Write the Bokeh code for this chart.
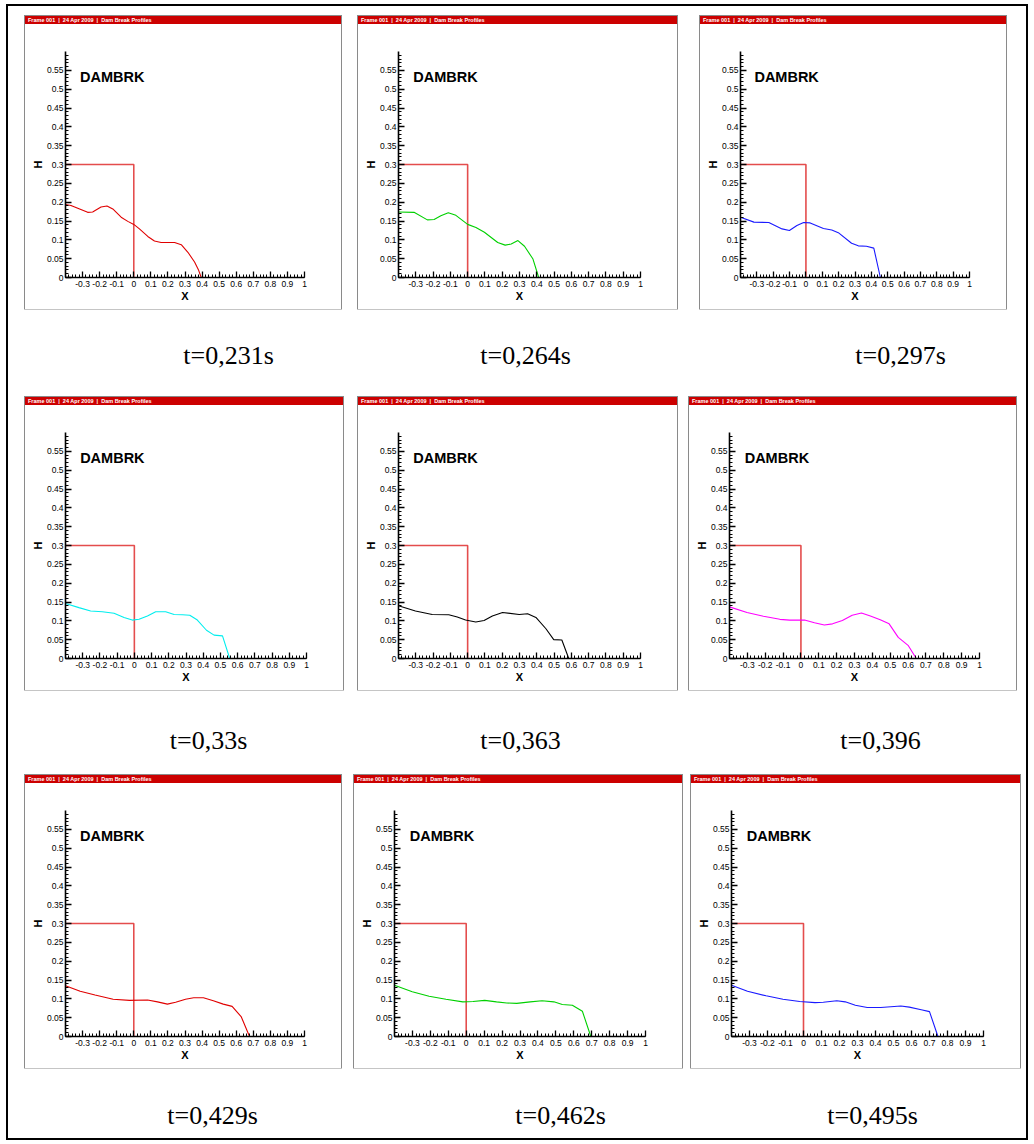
import numpy as np
from bokeh.plotting import figure
from bokeh.models import Range1d, FixedTicker, Label, Div
from bokeh.layouts import column, row
from bokeh.embed import file_html
from bokeh.resources import INLINE

# ---------------- data ----------------
header_text = "Frame 001&nbsp;&nbsp;|&nbsp;&nbsp;24 Apr 2009&nbsp;&nbsp;|&nbsp;&nbsp;Dam Break Profiles"
plot_label = "DAMBRK"
x_title = "X"
y_title = "H"

captions = ["t=0,231s", "t=0,264s", "t=0,297s",
            "t=0,33s", "t=0,363", "t=0,396",
            "t=0,429s", "t=0,462s", "t=0,495s"]
line_colors = ["#e00000", "#00d000", "#1a1aff",
               "#00eeee", "#000000", "#ff00ff",
               "#e00000", "#00d000", "#1a1aff"]

dam_x = [-0.4, 0.0, 0.0]
dam_h = [0.3, 0.3, 0.0]

x_t231 = [-0.4, -0.368, -0.27, -0.241, -0.192, -0.157, -0.123, -0.074, -0.035, 0.0, 0.033, 0.082, 0.121, 0.160, 0.239, 0.278, 0.317, 0.356, 0.380, 0.395]
h_t231 = [0.194, 0.191, 0.173, 0.174, 0.187, 0.190, 0.182, 0.160, 0.149, 0.141, 0.129, 0.109, 0.097, 0.093, 0.093, 0.087, 0.067, 0.041, 0.019, 0.0]

x_t264 = [-0.4, -0.31, -0.233, -0.194, -0.155, -0.112, -0.068, 0.0, 0.048, 0.097, 0.174, 0.217, 0.252, 0.291, 0.329, 0.378, 0.411]
h_t264 = [0.174, 0.173, 0.153, 0.154, 0.164, 0.172, 0.165, 0.141, 0.133, 0.120, 0.093, 0.086, 0.089, 0.098, 0.083, 0.049, 0.0]

x_t297 = [-0.4, -0.318, -0.227, -0.146, -0.101, -0.055, -0.014, 0.026, 0.107, 0.158, 0.198, 0.279, 0.320, 0.370, 0.415, 0.455]
h_t297 = [0.160, 0.147, 0.146, 0.129, 0.125, 0.138, 0.146, 0.145, 0.130, 0.126, 0.119, 0.091, 0.084, 0.083, 0.078, 0.0]

x_t330 = [-0.4, -0.322, -0.254, -0.186, -0.118, -0.060, -0.012, 0.027, 0.076, 0.124, 0.182, 0.231, 0.279, 0.322, 0.366, 0.419, 0.463, 0.512, 0.554]
h_t330 = [0.146, 0.135, 0.126, 0.124, 0.120, 0.109, 0.102, 0.104, 0.113, 0.124, 0.124, 0.117, 0.116, 0.115, 0.102, 0.075, 0.062, 0.060, 0.0]

x_t363 = [-0.4, -0.302, -0.205, -0.109, -0.060, -0.012, 0.047, 0.095, 0.143, 0.202, 0.298, 0.347, 0.395, 0.453, 0.498, 0.545, 0.585]
h_t363 = [0.140, 0.126, 0.117, 0.116, 0.110, 0.102, 0.097, 0.101, 0.113, 0.122, 0.117, 0.119, 0.109, 0.079, 0.050, 0.049, 0.0]

x_t396 = [-0.4, -0.302, -0.210, -0.118, -0.063, 0.020, 0.076, 0.131, 0.177, 0.232, 0.287, 0.339, 0.389, 0.444, 0.494, 0.545, 0.600, 0.646]
h_t396 = [0.137, 0.122, 0.112, 0.104, 0.102, 0.102, 0.095, 0.089, 0.092, 0.101, 0.115, 0.121, 0.113, 0.103, 0.092, 0.056, 0.035, 0.0]

x_t429 = [-0.4, -0.314, -0.227, -0.121, -0.025, 0.081, 0.139, 0.197, 0.245, 0.303, 0.351, 0.408, 0.466, 0.524, 0.576, 0.630, 0.678]
h_t429 = [0.135, 0.120, 0.110, 0.099, 0.096, 0.097, 0.092, 0.086, 0.091, 0.099, 0.103, 0.103, 0.095, 0.086, 0.080, 0.052, 0.0]

x_t462 = [-0.4, -0.301, -0.207, -0.113, -0.019, 0.038, 0.103, 0.169, 0.226, 0.282, 0.357, 0.423, 0.489, 0.536, 0.592, 0.648, 0.695]
h_t462 = [0.136, 0.119, 0.107, 0.099, 0.092, 0.093, 0.096, 0.092, 0.089, 0.088, 0.092, 0.095, 0.092, 0.085, 0.083, 0.067, 0.0]

x_t495 = [-0.4, -0.311, -0.208, -0.114, -0.021, 0.064, 0.110, 0.185, 0.232, 0.288, 0.354, 0.429, 0.485, 0.541, 0.588, 0.654, 0.700, 0.747]
h_t495 = [0.136, 0.120, 0.108, 0.099, 0.093, 0.090, 0.091, 0.095, 0.092, 0.083, 0.077, 0.077, 0.079, 0.081, 0.078, 0.071, 0.066, 0.0]

x_ticks = [-0.3, -0.2, -0.1, 0.0, 0.1, 0.2, 0.3, 0.4, 0.5, 0.6, 0.7, 0.8, 0.9, 1.0]
x_tick_labels = ["-0.3", "-0.2", "-0.1", "0", "0.1", "0.2", "0.3", "0.4", "0.5", "0.6", "0.7", "0.8", "0.9", "1"]
y_ticks = [0.0, 0.05, 0.1, 0.15, 0.2, 0.25, 0.3, 0.35, 0.4, 0.45, 0.5, 0.55]
y_tick_labels = ["0", "0.05", "0.1", "0.15", "0.2", "0.25", "0.3", "0.35", "0.4", "0.45", "0.5", "0.55"]

series_x = [x_t231, x_t264, x_t297, x_t330, x_t363, x_t396, x_t429, x_t462, x_t495]
series_h = [h_t231, h_t264, h_t297, h_t330, h_t363, h_t396, h_t429, h_t462, h_t495]

# ---------------- layout geometry (page px) ----------------
OX, OY = 8, 6            # content origin inside the outer frame
OUT_W, OUT_H = 1018, 1132
panel_lr = [[(24, 341), (357, 677), (699, 1006)],
            [(24, 343), (357, 677), (688, 1016)],
            [(24, 341), (353, 682), (690, 1020)]]
row_tops = [15, 396, 774]
PANEL_H = 295
HEADER_H = 8
PLOT_H = PANEL_H - 2 - HEADER_H
caption_cx = [[228, 525, 900], [208, 520, 880], [212, 560, 872]]
caption_cy = [355, 740, 1115]

FONT = "Liberation Sans"


def make_header(w):
    return Div(text=header_text, width=w, height=HEADER_H, margin=0,
               styles={"background-color": "#cc0000", "color": "white",
                       "font-family": "'Liberation Sans', Arial, sans-serif",
                       "font-size": "5.5px", "font-weight": "bold",
                       "line-height": "8px", "white-space": "nowrap",
                       "overflow": "hidden", "padding-left": "3px",
                       "box-sizing": "border-box"})


def make_plot(w, xs, hs, color):
    p = figure(width=w, height=PLOT_H, toolbar_location=None, output_backend="svg",
               title=None, x_range=Range1d(-0.4, 1.0), y_range=Range1d(0, 0.6),
               min_border_left=40, min_border_right=37, min_border_top=27, min_border_bottom=32,
               outline_line_color=None, background_fill_color="white", border_fill_color="white")
    p.grid.visible = False
    xa = p.xaxis[0]
    ya = p.yaxis[0]
    xa.ticker = FixedTicker(ticks=x_ticks, minor_ticks=list(np.round(np.arange(-0.4, 1.0001, 0.02), 3)))
    ya.ticker = FixedTicker(ticks=y_ticks, minor_ticks=list(np.round(np.arange(0.0, 0.5901, 0.01), 3)))
    xa.major_label_overrides = {t: s for t, s in zip(x_ticks, x_tick_labels)}
    ya.major_label_overrides = {t: s for t, s in zip(y_ticks, y_tick_labels)}
    for ax in (xa, ya):
        ax.axis_line_width = 1.6
        ax.axis_line_color = "black"
        ax.major_tick_in = 6
        ax.major_tick_out = 0
        ax.minor_tick_in = 3
        ax.minor_tick_out = 0
        ax.major_tick_line_width = 1.3
        ax.minor_tick_line_width = 1
        ax.major_label_text_font = FONT
        ax.major_label_text_font_size = "8.5px"
        ax.major_label_text_color = "black"
        ax.axis_label_text_font = FONT
        ax.axis_label_text_font_style = "bold"
        ax.axis_label_text_font_size = "11px"
        ax.axis_label_text_color = "black"
    xa.axis_label = x_title
    ya.axis_label = y_title
    xa.major_label_standoff = 3
    xa.axis_label_standoff = 0
    ya.major_label_standoff = 2
    ya.axis_label_standoff = 0
    p.line(dam_x, dam_h, line_color="#dd2020", line_alpha=0.8, line_width=1.6)
    p.line(xs, hs, line_color=color, line_width=1.1)
    p.add_layout(Label(x=-0.315, y=0.533, text=plot_label, text_font=FONT, text_font_style="bold",
                       text_font_size="14.5px", text_baseline="middle", text_color="black"))
    return p


def make_caption_strip(height, texts, centers, cy_from_top):
    c = figure(width=OUT_W, height=height, toolbar_location=None, output_backend="svg",
               title=None, x_range=Range1d(0, OUT_W), y_range=Range1d(0, height),
               x_axis_type=None, y_axis_type=None, min_border=0,
               outline_line_color=None, background_fill_color="white", border_fill_color="white")
    c.grid.visible = False
    for t, cx in zip(texts, centers):
        c.add_layout(Label(x=cx - OX, y=height - cy_from_top, text=t, text_align="center",
                           text_baseline="middle", text_font="Liberation Serif",
                           text_font_size="26px", text_color="black"))
    return c


children = []
for r in range(3):
    top = row_tops[r]
    panels = []
    prev_right = OX
    for c in range(3):
        i = r * 3 + c
        L, R = panel_lr[r][c]
        w = R - L - 1
        gap = (L + 1) - prev_right
        prev_right = R
        hdr = make_header(w)
        plt = make_plot(w, series_x[i], series_h[i], line_colors[i])
        panel = column(hdr, plt, spacing=0, margin=(0, 0, 0, gap),
                       styles={"outline": "1px solid #8a8a8a"})
        panels.append(panel)
    rtop = (top + 1) - OY if r == 0 else 0
    rw = row(*panels, spacing=0, margin=(rtop, 0, 0, 0))
    children.append(rw)
    strip_top = top + PANEL_H - 1
    strip_bottom = (row_tops[r + 1] + 1) if r < 2 else OY + OUT_H
    strip_h = strip_bottom - strip_top
    children.append(make_caption_strip(strip_h, captions[r * 3:(r + 1) * 3], caption_cx[r],
                                       caption_cy[r] - strip_top))

page = column(*children, spacing=0, width=OUT_W, height=OUT_H, margin=(OY, 0, 0, OX),
              styles={"outline": "2px solid black", "background-color": "white"})

with open("out.html", "w") as f:
    f.write(file_html(page, INLINE, title="Dam Break Profiles"))
